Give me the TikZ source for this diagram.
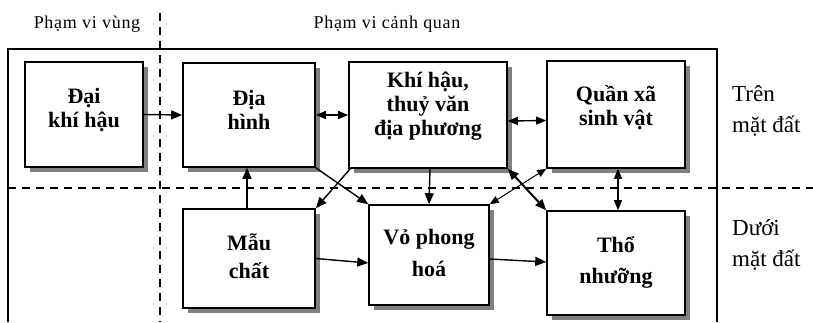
\documentclass[tikz,border=0pt]{standalone}
\usepackage{fontspec}
\setmainfont{Liberation Serif}
\newfontfamily\labelfont[LetterSpace=4]{Liberation Serif}
\usetikzlibrary{arrows.meta,shadows}

\tikzset{
  box/.style={draw, line width=1.6pt, fill=white, inner sep=0pt,
    drop shadow={shadow xshift=5pt, shadow yshift=-5pt, fill=black!50, opacity=1}},
  boxtext/.style={align=center, inner sep=0pt, font=\bfseries\fontsize{22}{24}\selectfont},
  sidetext/.style={align=left, anchor=west, inner sep=0pt, font=\fontsize{23}{31}\selectfont},
  toptext/.style={inner sep=0pt, anchor=base, font=\labelfont\fontsize{18}{20}\selectfont},
  divider/.style={line width=1.4pt, dash pattern=on 8pt off 6pt},
  frame/.style={line width=1.3pt},
  arr/.style={line width=1.4pt, -{Triangle[length=11pt,width=9pt]}},
  darr/.style={line width=1.4pt, {Triangle[length=10pt,width=8pt]}-{Triangle[length=10pt,width=8pt]}},
  darrthick/.style={line width=2pt, {Triangle[length=11pt,width=9pt]}-{Triangle[length=11pt,width=9pt]}},
  darrthin/.style={line width=1pt, {Triangle[length=9pt,width=7.5pt]}-{Triangle[length=9pt,width=7.5pt]}},
}

\begin{document}
\begin{tikzpicture}[x=1pt,y=-1pt]
\useasboundingbox (0,0) rectangle (813,322);

% region captions
\node[toptext] (capRegion) at (87,28) {Phạm vi vùng};
\node[toptext] (capLand) at (387,28) {Phạm vi cảnh quan};
\node[sidetext] (above) at (732,111) {Trên\\mặt đất};
\node[sidetext] (below) at (732,245) {Dưới\\mặt đất};

% frame and divisions
\draw[frame] (8,322) -- (8,49) -- (717,49) -- (717,322);
\draw[divider] (160,13) -- (160,322);
\draw[divider] (8,188) -- (813,188);

% boxes
\node[box, minimum width=118pt, minimum height=105pt] (dai) at (84,114.5) {};
\node[box, minimum width=132pt, minimum height=104pt] (dia) at (249,115) {};
\node[box, minimum width=158pt, minimum height=106pt] (khi) at (428,115) {};
\node[box, minimum width=138pt, minimum height=107pt] (qx) at (616,114.5) {};
\node[box, minimum width=132pt, minimum height=99pt] (mau) at (249,258.5) {};
\node[box, minimum width=120pt, minimum height=100pt] (vo) at (429,255) {};
\node[box, minimum width=138pt, minimum height=104pt] (tho) at (616,263) {};

% box labels
\node[boxtext] (daiT) at (84,110) {Đại\\khí hậu};
\node[boxtext] (diaT) at (249,110) {Địa\\hình};
\node[boxtext] (khiT) at (428,106) {Khí hậu,\\thuỷ văn\\địa phương};
\node[boxtext] (qxT) at (616,108) {Quần xã\\sinh vật};
\node[boxtext, font=\bfseries\fontsize{22}{28}\selectfont] (mauT) at (249,256) {Mẫu\\chất};
\node[boxtext, font=\bfseries\fontsize{22}{32}\selectfont] (voT) at (429,253) {Vỏ phong\\hoá};
\node[boxtext, font=\bfseries\fontsize{22}{31}\selectfont] (thoT) at (616,262) {Thổ\\nhưỡng};

% links
\draw[arr] (dai.east) -- (dia.west);
\draw[darr] (dia.east) -- (khi.west);
\draw[darr] ([yshift=-6pt]khi.east) -- ([yshift=-6pt]qx.west);
\draw[arr] ([xshift=-2pt]mau.north) -- ([xshift=-2pt]dia.south);
\draw[arr] ([xshift=2pt]khi.south west) -- (mau.north east);
\draw[arr] (dia.south east) -- (vo.north west);
\draw[arr] ([xshift=2pt]khi.south) -- (vo.north);
\draw[darrthick] (khi.south east) -- (tho.north west);
\draw[darrthin] (qx.south west) -- (vo.north east);
\draw[darr] ([xshift=2pt]qx.south) -- ([xshift=2pt]tho.north);
\draw[arr] (mau.east) -- ([yshift=-8pt]vo.west);
\draw[arr] ([yshift=-4pt]vo.east) -- ([yshift=1pt]tho.west);
\end{tikzpicture}
\end{document}
